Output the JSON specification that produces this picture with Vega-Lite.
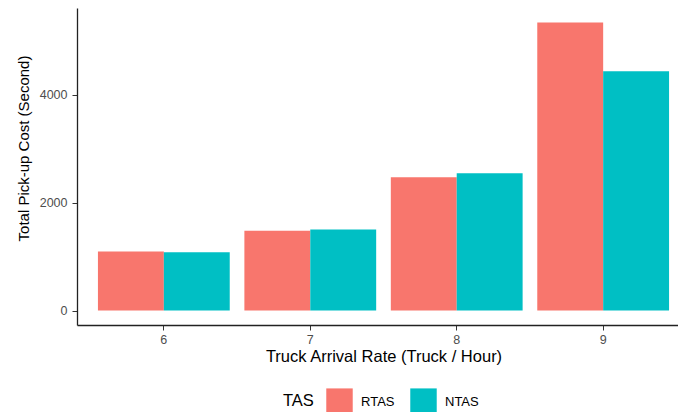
{
  "$schema": "https://vega.github.io/schema/vega-lite/v6.json",
  "autosize": {"type": "none"},
  "width": 601,
  "height": 317,
  "padding": {"left": 77, "top": 8, "right": 0, "bottom": 87},
  "background": "white",
  "config": {
    "view": {"stroke": null},
    "font": "Liberation Sans",
    "axis": {"grid": false, "domainColor": "#222222", "domainWidth": 1.3, "tickColor": "#333333", "tickSize": 5, "labelColor": "#4d4d4d", "labelFontSize": 12.5, "labelFont": "Liberation Sans", "titleFont": "Liberation Sans", "titleFontWeight": "normal", "titleColor": "#000000"}
  },
  "data": {
    "values": [
      {"rate": "6", "TAS": "RTAS", "cost": 1093},
      {"rate": "6", "TAS": "NTAS", "cost": 1082},
      {"rate": "7", "TAS": "RTAS", "cost": 1481},
      {"rate": "7", "TAS": "NTAS", "cost": 1500},
      {"rate": "8", "TAS": "RTAS", "cost": 2469},
      {"rate": "8", "TAS": "NTAS", "cost": 2543},
      {"rate": "9", "TAS": "RTAS", "cost": 5339},
      {"rate": "9", "TAS": "NTAS", "cost": 4432}
    ]
  },
  "mark": {"type": "bar"},
  "encoding": {
    "x": {
      "field": "rate", "type": "nominal",
      "scale": {"range": [0, 613], "paddingInner": 0.1, "paddingOuter": 0.143},
      "axis": {"title": "Truck Arrival Rate (Truck / Hour)", "labelAngle": 0, "labelPadding": 3, "titleFontSize": 16.5, "titleY": 23, "titleBaseline": "top"}
    },
    "xOffset": {"field": "TAS", "type": "nominal", "sort": ["RTAS", "NTAS"], "scale": {"paddingInner": 0, "paddingOuter": 0}},
    "y": {
      "field": "cost", "type": "quantitative",
      "scale": {"domain": [-267, 5606], "nice": false, "zero": false},
      "axis": {"title": "Total Pick-up Cost (Second)", "values": [0, 2000, 4000], "format": "d", "labelPadding": 5, "titleFontSize": 15, "titleY": 140, "titleX": -46, "titleAlign": "center", "titleAngle": -90, "titleBaseline": "bottom"}
    },
    "y2": {"datum": 0},
    "color": {
      "field": "TAS", "type": "nominal", "sort": ["RTAS", "NTAS"],
      "scale": {"domain": ["RTAS", "NTAS"], "range": ["#F8766D", "#00BFC4"]},
      "legend": {
        "orient": "none", "legendX": 206, "legendY": 380,
        "direction": "horizontal", "titleOrient": "left",
        "title": "TAS", "titleFontSize": 16.5, "titleFontWeight": "normal", "titleColor": "#000000", "titleFont": "Liberation Sans", "titlePadding": 12,
        "symbolType": "square", "symbolSize": 700, "symbolStrokeWidth": 0, "symbolOpacity": 1,
        "labelFontSize": 13, "labelColor": "#000000", "labelFont": "Liberation Sans", "labelOffset": 8, "columnPadding": 15
      }
    }
  }
}
